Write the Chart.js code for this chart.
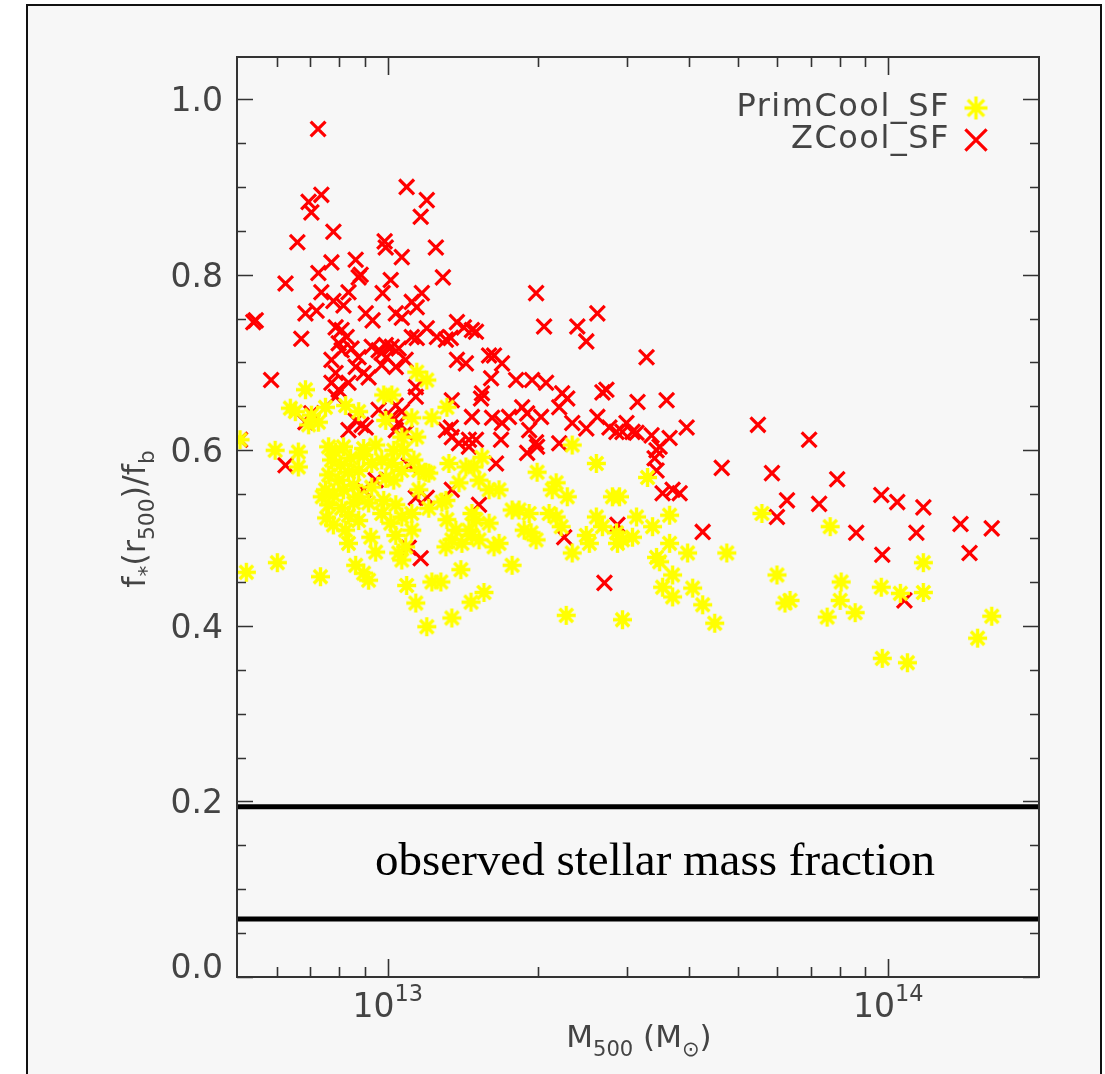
<!DOCTYPE html>
<html><head><meta charset="utf-8">
<script src="https://cdn.jsdelivr.net/npm/chart.js@4.4.1/dist/chart.umd.min.js"></script>
<style>
html,body{margin:0;padding:0;background:#fff;}
canvas{display:block;}
</style></head><body>
<canvas id="c" width="1105" height="1074"></canvas>
<script>
// ---------------- data ----------------
const seriesNames = ['PrimCool_SF', 'ZCool_SF'];
const xRange = [5e12, 2e14];
const yRange = [0, 1.048];
const yMajorTicks = [0, 0.2, 0.4, 0.6, 0.8, 1.0];
const yMinorTicks = [0.05,0.1,0.15,0.25,0.3,0.35,0.45,0.5,0.55,0.65,0.7,0.75,0.85,0.9,0.95];
const xMajorTicks = [1e13, 1e14];
const xMinorTicks = [6e12,7e12,8e12,9e12,2e13,3e13,4e13,5e13,6e13,7e13,8e13,9e13];
const xTickLabels = [['10','13'], ['10','14']];
const observedBand = [0.066, 0.194];
const bandLabel = 'observed stellar mass fraction';

// ZCool_SF : [M500 (Msun), f*(r500)/fb]
const zcoolPoints = [
[7.26e12,0.966],[7.37e12,0.891],[6.95e12,0.883],[7.04e12,0.871],[1.091e13,0.900],[1.197e13,0.885],[1.164e13,0.866],[6.60e12,0.837],[7.79e12,0.849],[9.86e12,0.838],
[9.91e12,0.831],[1.067e13,0.820],[1.248e13,0.831],[6.25e12,0.790],[7.27e12,0.802],[7.72e12,0.814],[8.63e12,0.817],[8.83e12,0.800],[8.75e12,0.797],[1.014e13,0.794],
[1.289e13,0.797],[5.39e12,0.746],[5.45e12,0.748],[6.72e12,0.727],[6.85e12,0.756],[7.21e12,0.759],[7.37e12,0.780],[7.79e12,0.770],[8.16e12,0.765],[8.35e12,0.780],
[9.04e12,0.756],[9.33e12,0.748],[9.77e12,0.779],[1.038e13,0.756],[1.067e13,0.751],[1.117e13,0.769],[1.143e13,0.763],[1.170e13,0.779],[1.197e13,0.739],[1.254e13,0.729],
[1.337e13,0.728],[1.375e13,0.746],[1.420e13,0.740],[1.501e13,0.735],[1.143e13,0.728],[5.85e12,0.680],[7.87e12,0.740],[8.09e12,0.737],[8.28e12,0.729],[7.98e12,0.722],
[7.72e12,0.703],[7.87e12,0.688],[7.72e12,0.677],[7.98e12,0.669],[8.09e12,0.714],[8.47e12,0.716],[8.75e12,0.706],[8.63e12,0.695],[8.95e12,0.688],[9.16e12,0.683],
[8.35e12,0.677],[9.29e12,0.718],[9.59e12,0.714],[9.91e12,0.720],[1.019e13,0.718],[1.052e13,0.716],[9.73e12,0.711],[9.95e12,0.706],[1.038e13,0.695],[9.73e12,0.697],
[1.086e13,0.703],[1.117e13,0.729],[1.307e13,0.726],[1.473e13,0.737],[1.375e13,0.703],[1.433e13,0.699],[1.138e13,0.672],[1.138e13,0.661],[1.343e13,0.657],[1.473e13,0.638],
[1.307e13,0.623],[1.343e13,0.615],[1.453e13,0.612],[7.87e12,0.661],[8.63e12,0.634],[9.04e12,0.626],[9.59e12,0.646],[1.019e13,0.638],[1.052e13,0.631],[1.038e13,0.623],
[1.086e13,0.620],[8.35e12,0.623],[6.25e12,0.583],[1.138e13,0.546],[1.197e13,0.546],[1.164e13,0.477],[1.102e13,0.489],[1.337e13,0.626],[1.388e13,0.608],[1.067e13,0.644],
[1.038e13,0.651],[8.87e12,0.629],[6.85e12,0.632],[7.04e12,0.642],[1.343e13,0.555],[1.453e13,0.604],[1.979e13,0.779],[2.053e13,0.741],[2.392e13,0.741],[2.623e13,0.756],
[2.493e13,0.724],[3.289e13,0.706],[1.594e13,0.708],[1.631e13,0.708],[1.692e13,0.699],[1.609e13,0.682],[1.805e13,0.680],[1.943e13,0.680],[2.072e13,0.677],[1.543e13,0.665],
[1.536e13,0.659],[2.231e13,0.665],[2.284e13,0.659],[2.201e13,0.649],[2.735e13,0.669],[2.685e13,0.666],[3.155e13,0.655],[3.607e13,0.657],[1.856e13,0.649],[1.899e13,0.642],
[2.025e13,0.638],[1.747e13,0.638],[1.692e13,0.631],[1.616e13,0.637],[1.917e13,0.623],[1.979e13,0.609],[1.988e13,0.604],[1.899e13,0.597],[2.201e13,0.608],[2.337e13,0.631],
[2.493e13,0.625],[2.623e13,0.638],[2.773e13,0.626],[2.864e13,0.621],[2.944e13,0.621],[2.999e13,0.631],[3.083e13,0.621],[3.141e13,0.620],[3.366e13,0.617],[3.657e13,0.614],
[3.955e13,0.626],[3.444e13,0.600],[3.492e13,0.604],[3.413e13,0.591],[3.444e13,0.577],[3.541e13,0.551],[3.708e13,0.555],[3.830e13,0.551],[1.501e13,0.612],[1.684e13,0.612],
[1.646e13,0.585],[1.522e13,0.538],[4.648e13,0.580],[5.490e13,0.629],[4.258e13,0.507],[2.252e13,0.501],[2.877e13,0.515],[2.710e13,0.449],[6.947e13,0.612],[5.856e13,0.574],
[6.275e13,0.543],[5.992e13,0.524],[7.274e13,0.539],[7.904e13,0.567],[8.627e13,0.506],[9.683e13,0.549],[1.042e14,0.541],[1.175e14,0.535],[9.727e13,0.481],[1.138e14,0.506],
[1.077e14,0.429],[1.394e14,0.516],[1.609e14,0.511],[1.453e14,0.483],[5.07e12,0.612],[8.95e12,0.555],[9.46e12,0.566],[1.102e13,0.583]
];

// PrimCool_SF : [M500 (Msun), f*(r500)/fb]
const primcoolPoints = [
[5.07e12,0.612],[5.96e12,0.600],[6.63e12,0.598],[6.63e12,0.581],[6.85e12,0.669],[6.39e12,0.648],[6.54e12,0.644],[7.04e12,0.640],[6.95e12,0.629],[7.27e12,0.632],
[7.51e12,0.649],[8.24e12,0.651],[8.75e12,0.644],[9.82e12,0.663],[1.019e13,0.663],[1.143e13,0.689],[1.197e13,0.680],[1.313e13,0.649],[1.225e13,0.637],[1.117e13,0.637],
[9.91e12,0.634],[1.067e13,0.615],[1.143e13,0.615],[7.62e12,0.604],[7.87e12,0.598],[8.16e12,0.604],[7.72e12,0.589],[8.05e12,0.583],[8.43e12,0.591],[7.62e12,0.572],
[7.98e12,0.566],[8.35e12,0.575],[7.51e12,0.555],[7.79e12,0.549],[8.16e12,0.555],[8.55e12,0.560],[7.62e12,0.538],[8.09e12,0.534],[7.40e12,0.547],[7.55e12,0.523],
[8.75e12,0.547],[9.16e12,0.540],[9.73e12,0.528],[1.038e13,0.538],[1.117e13,0.528],[9.29e12,0.585],[9.73e12,0.589],[1.019e13,0.585],[1.067e13,0.577],[9.91e12,0.568],
[9.29e12,0.558],[8.95e12,0.602],[9.46e12,0.606],[1.028e13,0.600],[8.75e12,0.577],[8.24e12,0.509],[8.35e12,0.494],[9.25e12,0.501],[9.46e12,0.484],[1.014e13,0.517],
[1.038e13,0.503],[1.117e13,0.509],[1.086e13,0.490],[1.052e13,0.483],[1.067e13,0.475],[8.63e12,0.469],[8.95e12,0.460],[9.16e12,0.452],[1.091e13,0.446],[1.138e13,0.426],
[1.225e13,0.450],[1.277e13,0.450],[1.197e13,0.399],[1.343e13,0.409],[1.400e13,0.464],[1.467e13,0.427],[1.191e13,0.575],[1.325e13,0.585],[1.433e13,0.581],[1.307e13,0.543],
[1.313e13,0.521],[1.368e13,0.509],[1.453e13,0.509],[1.473e13,0.528],[1.343e13,0.498],[1.307e13,0.490],[5.22e12,0.461],[6.02e12,0.472],[7.34e12,0.456],[1.154e13,0.577],
[1.388e13,0.563],[1.407e13,0.494],[1.283e13,0.541],[1.208e13,0.574],[1.067e13,0.524],[2.337e13,0.606],[2.611e13,0.585],[1.988e13,0.575],[3.304e13,0.569],[1.487e13,0.581],
[1.543e13,0.592],[2.170e13,0.563],[2.131e13,0.555],[2.284e13,0.547],[1.669e13,0.555],[1.594e13,0.555],[1.522e13,0.566],[1.501e13,0.521],[1.594e13,0.517],[1.473e13,0.503],
[1.522e13,0.498],[1.669e13,0.494],[1.631e13,0.490],[1.772e13,0.532],[1.830e13,0.532],[1.917e13,0.528],[1.873e13,0.509],[1.934e13,0.506],[1.979e13,0.498],[2.101e13,0.528],
[2.170e13,0.524],[2.221e13,0.513],[2.337e13,0.483],[2.493e13,0.503],[2.611e13,0.524],[2.685e13,0.513],[2.528e13,0.494],[2.811e13,0.547],[2.904e13,0.547],[2.864e13,0.506],
[2.944e13,0.498],[3.083e13,0.501],[2.877e13,0.494],[3.141e13,0.524],[3.381e13,0.513],[3.657e13,0.526],[3.444e13,0.478],[3.492e13,0.473],[3.657e13,0.494],[3.973e13,0.483],
[4.757e13,0.483],[3.708e13,0.458],[3.541e13,0.444],[3.708e13,0.433],[4.066e13,0.443],[4.258e13,0.424],[4.500e13,0.403],[1.772e13,0.469],[1.557e13,0.438],[2.273e13,0.412],
[2.944e13,0.407],[5.592e13,0.528],[7.653e13,0.513],[5.992e13,0.458],[6.217e13,0.426],[6.363e13,0.429],[8.051e13,0.450],[8.014e13,0.429],[7.549e13,0.410],[8.587e13,0.415],
[9.683e13,0.444],[1.057e14,0.437],[1.175e14,0.472],[1.175e14,0.438],[9.727e13,0.363],[1.092e14,0.358],[1.508e14,0.386],[1.609e14,0.411],[1.208e13,0.534],
[8.55e12,0.540],[8.95e12,0.594],[1.076e13,0.600],[1.128e13,0.589],[1.154e13,0.555],[7.79e12,0.515],[8.35e12,0.526],[1.028e13,0.566],[9.82e12,0.543],[8.75e12,0.520]
];

// ---------------- styles ----------------
const SANS = '"DejaVu Sans", sans-serif';
const TXT = '#444';
const AXC = '#333';

function makeAsterisk(color, half, lw) {
  const s = Math.ceil(2 * half + lw + 2);
  const cv = document.createElement('canvas');
  cv.width = s; cv.height = s;
  const g = cv.getContext('2d');
  g.strokeStyle = color; g.lineWidth = lw; g.lineCap = 'butt';
  g.beginPath();
  for (let k = 0; k < 4; k++) {
    const ang = k * Math.PI / 4;
    const dx = Math.cos(ang) * half, dy = Math.sin(ang) * half;
    g.moveTo(s / 2 - dx, s / 2 - dy); g.lineTo(s / 2 + dx, s / 2 + dy);
  }
  g.stroke();
  return cv;
}
const starMark = makeAsterisk('#ffff00', 9.5, 3.4);
const starLegend = makeAsterisk('#ffff00', 11.5, 3.4);

function drawRich(ctx, parts, x, y, size, align) {
  const items = parts.map(([t, m]) => {
    const fs = m === 'n' ? size : size * 0.68;
    ctx.font = fs + 'px ' + SANS;
    return {t, m, fs, w: ctx.measureText(t).width};
  });
  const total = items.reduce((a, b) => a + b.w, 0);
  let cx = align === 'center' ? x - total / 2 : (align === 'right' ? x - total : x);
  ctx.textAlign = 'left';
  ctx.textBaseline = 'alphabetic';
  for (const it of items) {
    ctx.font = it.fs + 'px ' + SANS;
    let dy = 0;
    if (it.m === 'sub') dy = size * 0.28;
    if (it.m === 'sup') dy = -size * 0.5;
    ctx.fillText(it.t, cx, y + dy);
    cx += it.w;
  }
}

const decor = {
  id: 'decor',
  beforeDraw(chart) {
    const c = chart.ctx;
    c.save();
    c.fillStyle = '#ffffff';
    c.fillRect(0, 0, chart.width, chart.height);
    c.fillStyle = '#f7f7f7';
    c.fillRect(27, 5, 1074, 1100);
    c.strokeStyle = '#111';
    c.lineWidth = 2;
    c.strokeRect(27, 5, 1074, 1100);
    c.restore();
  },
  afterDatasetsDraw(chart) {
    const c = chart.ctx;
    const a = chart.chartArea;
    const xs = chart.scales.x, ys = chart.scales.y;
    c.save();
    c.strokeStyle = AXC;
    c.lineWidth = 2;
    c.strokeRect(a.left, a.top, a.right - a.left, a.bottom - a.top);
    c.lineWidth = 1.6;
    c.beginPath();
    const yt = (vals, len) => vals.forEach(v => {
      const p = Math.round(ys.getPixelForValue(v)) + 0.5;
      c.moveTo(a.left, p); c.lineTo(a.left + len, p);
      c.moveTo(a.right, p); c.lineTo(a.right - len, p);
    });
    const xt = (vals, len) => vals.forEach(v => {
      const p = Math.round(xs.getPixelForValue(v)) + 0.5;
      c.moveTo(p, a.bottom); c.lineTo(p, a.bottom - len);
      c.moveTo(p, a.top); c.lineTo(p, a.top + len);
    });
    yt(yMajorTicks, 16); yt(yMinorTicks, 9);
    xt(xMajorTicks, 18); xt(xMinorTicks, 10);
    c.stroke();

    c.fillStyle = TXT;
    c.font = '33px ' + SANS;
    c.textAlign = 'right';
    c.textBaseline = 'alphabetic';
    yMajorTicks.forEach(v => {
      const p = ys.getPixelForValue(v);
      const base = v === yRange[0] ? a.bottom + 1 : p + 12;
      c.fillText(v.toFixed(1), a.left - 14, base);
    });
    xMajorTicks.forEach((v, i) => {
      const p = xs.getPixelForValue(v);
      drawRich(c, [[xTickLabels[i][0], 'n'], [xTickLabels[i][1], 'sup']], p, a.bottom + 40, 33, 'center');
    });
    c.fillStyle = TXT;
    drawRich(c, [['M', 'n'], ['500', 'sub'], [' (M', 'n'], ['\u2299', 'sub'], [')', 'n']], 639, a.bottom + 70, 31, 'center');
    c.save();
    c.translate(145, 519);
    c.rotate(-Math.PI / 2);
    drawRich(c, [['f', 'n'], ['*', 'sub'], ['(r', 'n'], ['500', 'sub'], [')/f', 'n'], ['b', 'sub']], 0, 0, 32, 'center');
    c.restore();

    // legend
    const legendRows = [{y: 116, my: 108}, {y: 148, my: 140}];
    c.font = '32px ' + SANS;
    c.textAlign = 'right';
    c.textBaseline = 'alphabetic';
    try { c.letterSpacing = '1.5px'; } catch (e) {}
    [0, 1].forEach(i => {
      const ds = chart.data.datasets[i];
      c.fillStyle = TXT;
      c.fillText(ds.label, 950, legendRows[i].y);
    });
    try { c.letterSpacing = '0px'; } catch (e) {}
    const ds1 = chart.data.datasets[1];
    Chart.helpers.drawPoint(c, {pointStyle: starLegend, rotation: 0, radius: 12, borderWidth: 3}, 976, legendRows[0].my);
    c.strokeStyle = ds1.borderColor;
    c.lineWidth = 3.2;
    Chart.helpers.drawPoint(c, {pointStyle: ds1.pointStyle, rotation: 0, radius: 15, borderWidth: 3.2}, 976, legendRows[1].my);

    // band label
    c.fillStyle = '#000';
    let fs = 44;
    c.font = fs + 'px "Liberation Serif", serif';
    const w = c.measureText(bandLabel).width;
    fs = fs * 560 / w;
    c.font = fs + 'px "Liberation Serif", serif';
    c.textAlign = 'center';
    c.textBaseline = 'middle';
    const midY = ys.getPixelForValue((observedBand[0] + observedBand[1]) / 2);
    c.fillText(bandLabel, 655, midY);
    c.restore();
  }
};

const toXY = pts => pts.map(([x, y]) => ({x, y}));
const bandLine = v => [{x: xRange[0], y: v}, {x: xRange[1], y: v}];

new Chart(document.getElementById('c').getContext('2d'), {
  type: 'scatter',
  data: {
    datasets: [
      {label: seriesNames[0], data: toXY(primcoolPoints), pointStyle: starMark, pointRadius: 10,
       borderColor: '#ffff00', backgroundColor: '#ffff00', borderWidth: 3},
      {label: seriesNames[1], data: toXY(zcoolPoints), pointStyle: 'crossRot', pointRadius: 10.5,
       borderColor: '#ff0000', backgroundColor: '#ff0000', borderWidth: 3.2},
      {type: 'line', label: 'obs_low', data: bandLine(observedBand[0]), borderColor: '#000', borderWidth: 5, pointRadius: 0, fill: false},
      {type: 'line', label: 'obs_high', data: bandLine(observedBand[1]), borderColor: '#000', borderWidth: 5, pointRadius: 0, fill: false}
    ]
  },
  options: {
    responsive: false,
    animation: false,
    devicePixelRatio: 1,
    layout: {padding: {left: 0, top: 57, right: 66, bottom: 0}},
    plugins: {legend: {display: false}, tooltip: {enabled: false}},
    events: [],
    scales: {
      x: {
        type: 'logarithmic', min: xRange[0], max: xRange[1],
        grid: {display: false, drawTicks: false}, border: {display: false},
        ticks: {display: false},
        afterBuildTicks(s) { s.ticks = xMajorTicks.map(v => ({value: v})); },
        afterFit(s) { s.height = 97; }
      },
      y: {
        type: 'linear', min: yRange[0], max: yRange[1],
        grid: {display: false, drawTicks: false}, border: {display: false},
        ticks: {display: false},
        afterBuildTicks(s) { s.ticks = yMajorTicks.map(v => ({value: v})); },
        afterFit(s) { s.width = 237; }
      }
    }
  },
  plugins: [decor]
});
</script>
</body></html>
